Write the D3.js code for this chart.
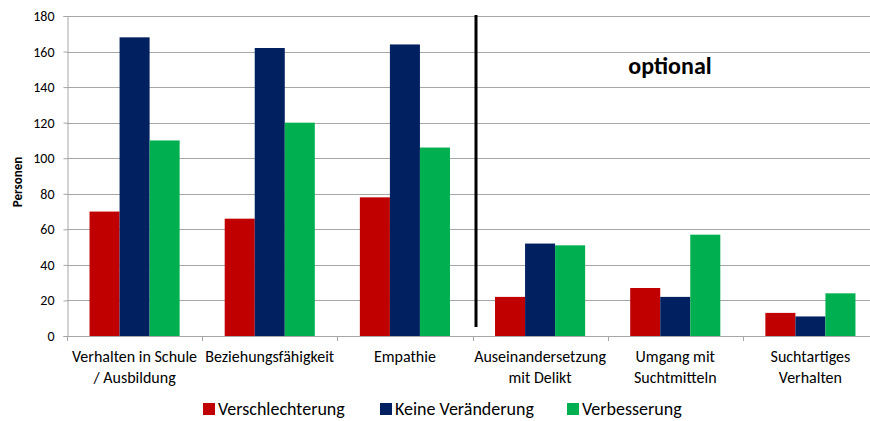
<!DOCTYPE html>
<html lang="de">
  <head>
    <meta charset="utf-8" />
    <title>Personen je Bereich</title>
    <script src="https://cdn.jsdelivr.net/npm/d3@7"></script>
    <style>
      body { margin: 0; background: #fff; }
      text { font-family: Carlito, Lato, "Liberation Sans", sans-serif; fill: #000; }
    </style>
  </head>
  <body>
    <div id="chart"></div>
    <script>
      // data
      const categories = [
        ["Verhalten in Schule", "/ Ausbildung"],
        ["Beziehungsfähigkeit"],
        ["Empathie"],
        ["Auseinandersetzung", "mit Delikt"],
        ["Umgang mit", "Suchtmitteln"],
        ["Suchtartiges", "Verhalten"]
      ];
      const seriesNames = ["Verschlechterung", "Keine Veränderung", "Verbesserung"];
      const verschlechterung = [70, 66, 78, 22, 27, 13];
      const keineVeraenderung = [168, 162, 164, 52, 22, 11];
      const verbesserung = [110, 120, 106, 51, 57, 24];
      const yTicks = [0, 20, 40, 60, 80, 100, 120, 140, 160, 180];
      const colors = ["#C00000", "#002060", "#00B050"];

      const w = 870, h = 421;
      const mLeft = 67, mRight = 878, mTop = 16, mBottom = 336;

      const svg = d3.select("#chart").append("svg")
        .attr("width", w).attr("height", h);

      const x = d3.scaleBand()
        .domain(d3.range(categories.length))
        .range([mLeft, mRight]);

      // gap width 150% like the spreadsheet chart
      const xInner = d3.scaleBand()
        .domain(d3.range(3))
        .range([0, x.bandwidth()])
        .paddingInner(0)
        .paddingOuter(0.75);

      const y = d3.scaleLinear().domain([0, 180]).range([mBottom, mTop]);

      // gridlines
      svg.append("g").selectAll("line")
        .data(yTicks)
        .join("line")
        .attr("x1", mLeft).attr("x2", w)
        .attr("y1", d => Math.round(y(d)) + 0.5)
        .attr("y2", d => Math.round(y(d)) + 0.5)
        .attr("stroke", "#a6a6a6").attr("stroke-width", 1);

      // y axis
      const yAxis = svg.append("g")
        .attr("transform", `translate(${mLeft + 0.5},0)`)
        .call(d3.axisLeft(y).tickValues(yTicks).tickSize(4).tickPadding(9));
      yAxis.select(".domain").attr("stroke", "#a6a6a6");
      yAxis.selectAll(".tick line").attr("stroke", "#a6a6a6");
      yAxis.selectAll(".tick text").style("font-size", "14px").attr("fill", "#000");

      // bars
      const series = [verschlechterung, keineVeraenderung, verbesserung];
      series.forEach((vals, s) => {
        svg.append("g").selectAll("rect")
          .data(vals)
          .join("rect")
          .attr("x", (d, i) => x(i) + xInner(s))
          .attr("width", xInner.bandwidth())
          .attr("y", d => y(d))
          .attr("height", d => y(0) - y(d))
          .attr("fill", colors[s]);
      });

      // x axis line and ticks
      const xg = svg.append("g");
      xg.append("line")
        .attr("x1", mLeft).attr("x2", w)
        .attr("y1", mBottom + 0.5).attr("y2", mBottom + 0.5)
        .attr("stroke", "#a6a6a6");
      xg.selectAll(".xt")
        .data(d3.range(categories.length + 1))
        .join("line")
        .attr("class", "xt")
        .attr("x1", i => Math.round(mLeft + i * x.step()) + 0.5)
        .attr("x2", i => Math.round(mLeft + i * x.step()) + 0.5)
        .attr("y1", mBottom).attr("y2", mBottom + 5)
        .attr("stroke", "#a6a6a6");

      // category labels
      categories.forEach((lines, i) => {
        const t = svg.append("text")
          .attr("x", x(i) + x.bandwidth() / 2)
          .attr("y", 362)
          .attr("text-anchor", "middle")
          .style("font-size", "16px");
        lines.forEach((l, k) => {
          t.append("tspan")
            .attr("x", x(i) + x.bandwidth() / 2)
            .attr("dy", k === 0 ? 0 : 21)
            .text(l);
        });
      });

      // y axis title
      svg.append("text")
        .attr("transform", "translate(22,182) rotate(-90)")
        .attr("text-anchor", "middle")
        .style("font-size", "13px")
        .style("font-weight", "bold")
        .text("Personen");

      // separator line
      svg.append("line")
        .attr("x1", 476).attr("x2", 476)
        .attr("y1", 15).attr("y2", 327)
        .attr("stroke", "#000").attr("stroke-width", 3);

      svg.append("text")
        .attr("x", 670).attr("y", 74)
        .attr("text-anchor", "middle")
        .style("font-size", "24px")
        .style("font-weight", "bold")
        .text("optional");

      // legend
      const legendX = [203, 380, 567];
      const lg = svg.append("g");
      seriesNames.forEach((name, s) => {
        lg.append("rect")
          .attr("x", legendX[s]).attr("y", 403)
          .attr("width", 12).attr("height", 12)
          .attr("fill", colors[s]);
        lg.append("text")
          .attr("x", legendX[s] + 15).attr("y", 415)
          .style("font-size", "18px")
          .text(name);
      });
    </script>
  </body>
</html>
